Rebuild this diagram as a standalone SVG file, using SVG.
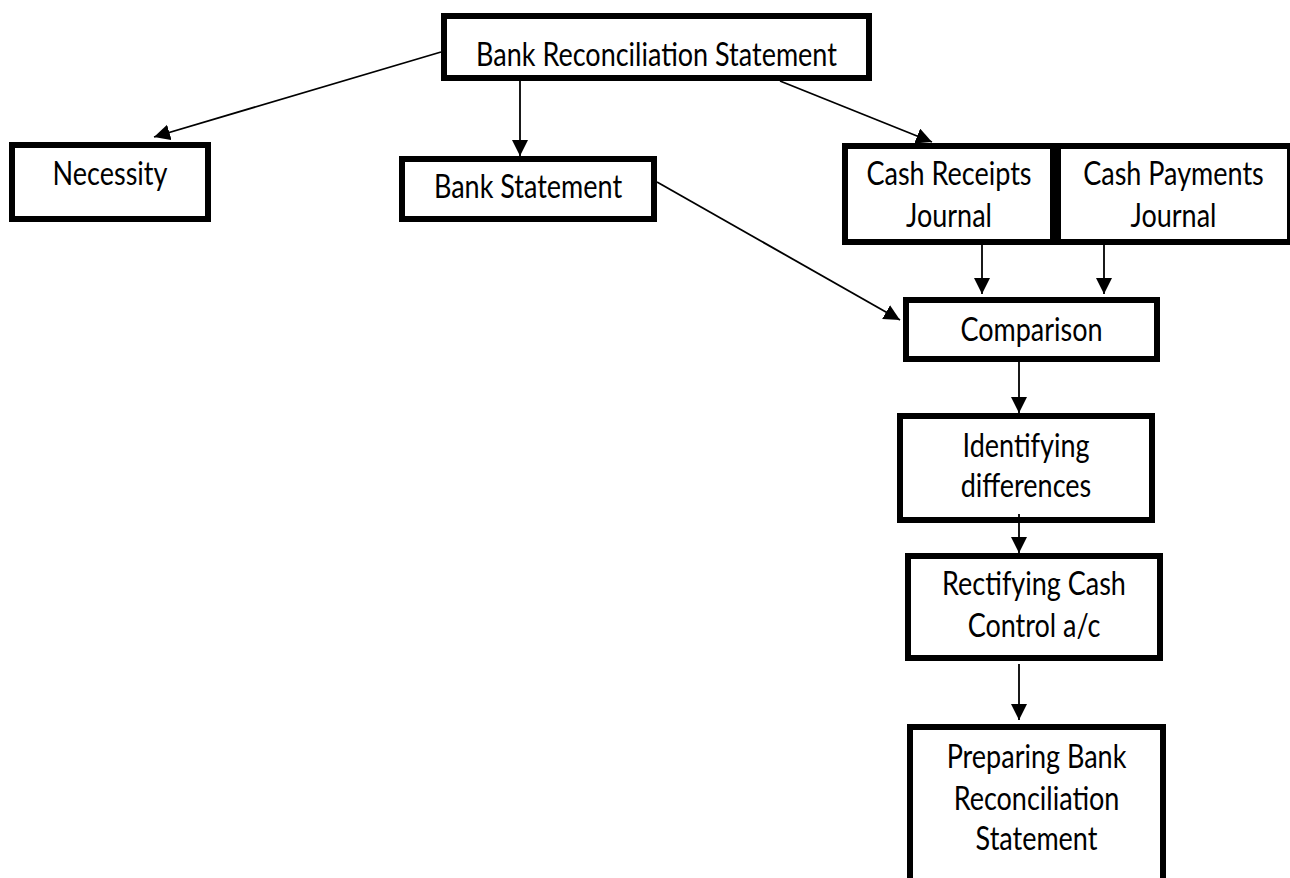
<svg xmlns="http://www.w3.org/2000/svg" width="1290" height="878" viewBox="0 0 1290 878">
  <style>
    .box { fill: #ffffff; stroke: #000000; stroke-width: 6; }
    .lbl { font-family: Lato, "Open Sans", sans-serif; font-size: 27px; fill: #000000; text-anchor: middle; }
    .link { stroke: #000000; stroke-width: 1.8; fill: none; marker-end: url(#arrow); }
  </style>
  <defs>
    <marker id="arrow" markerUnits="userSpaceOnUse" markerWidth="17" markerHeight="17" refX="16" refY="8" orient="auto">
      <path d="M0,0 L16,8 L0,16 Z" fill="#000000"/>
    </marker>
  </defs>
  <rect width="1290" height="878" fill="#ffffff"/>

  <g id="node-brs">
    <rect class="box" x="444" y="16" width="425" height="62"/>
    <text class="lbl" transform="translate(656.5,66) scale(1,1.2)">Bank Reconciliation Statement</text>
  </g>
  <g id="node-necessity">
    <rect class="box" x="12" y="145" width="196" height="74"/>
    <text class="lbl" transform="translate(110,185) scale(1,1.2)">Necessity</text>
  </g>
  <g id="node-bank-statement">
    <rect class="box" x="402" y="159" width="252" height="60"/>
    <text class="lbl" transform="translate(528,198) scale(1,1.2)">Bank Statement</text>
  </g>
  <g id="node-cash-receipts">
    <rect class="box" x="845" y="146" width="208" height="96"/>
    <text class="lbl" transform="translate(949,185) scale(1,1.2)">Cash Receipts</text>
    <text class="lbl" transform="translate(949,227) scale(1,1.2)">Journal</text>
  </g>
  <g id="node-cash-payments">
    <rect class="box" x="1058" y="146" width="232" height="96"/>
    <text class="lbl" transform="translate(1173.5,185) scale(1,1.2)">Cash Payments</text>
    <text class="lbl" transform="translate(1173.5,227) scale(1,1.2)">Journal</text>
  </g>
  <g id="node-comparison">
    <rect class="box" x="906" y="300" width="251" height="59"/>
    <text class="lbl" transform="translate(1031.5,341) scale(1,1.2)">Comparison</text>
  </g>
  <g id="node-identifying">
    <rect class="box" x="900" y="416" width="252" height="104"/>
    <text class="lbl" transform="translate(1026,457) scale(1,1.2)">Identifying</text>
    <text class="lbl" transform="translate(1026,497) scale(1,1.2)">differences</text>
  </g>
  <g id="node-rectifying">
    <rect class="box" x="908" y="556" width="252" height="102"/>
    <text class="lbl" transform="translate(1034,595) scale(1,1.2)">Rectifying Cash</text>
    <text class="lbl" transform="translate(1034,637) scale(1,1.2)">Control a/c</text>
  </g>
  <g id="node-preparing">
    <rect class="box" x="910" y="727" width="253" height="170"/>
    <text class="lbl" transform="translate(1036.5,768) scale(1,1.2)">Preparing Bank</text>
    <text class="lbl" transform="translate(1036.5,810) scale(1,1.2)">Reconciliation</text>
    <text class="lbl" transform="translate(1036.5,850) scale(1,1.2)">Statement</text>
  </g>

  <g id="connectors">
    <line class="link" x1="441" y1="52" x2="154" y2="137"/>
    <line class="link" x1="520" y1="81" x2="520" y2="156"/>
    <line class="link" x1="780" y1="81" x2="932" y2="142"/>
    <line class="link" x1="657" y1="182" x2="900" y2="320"/>
    <line class="link" x1="982" y1="245" x2="982" y2="294"/>
    <line class="link" x1="1104" y1="245" x2="1104" y2="294"/>
    <line class="link" x1="1019" y1="362" x2="1019" y2="413"/>
    <line class="link" x1="1019" y1="514" x2="1019" y2="553"/>
    <line class="link" x1="1019" y1="664" x2="1019" y2="720"/>
  </g>
</svg>
